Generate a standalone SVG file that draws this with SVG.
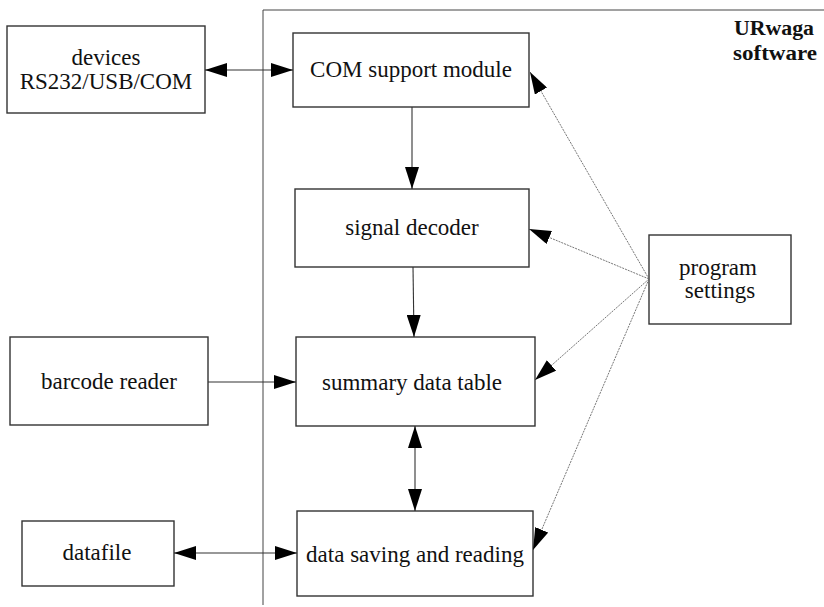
<svg xmlns="http://www.w3.org/2000/svg" width="824" height="607" viewBox="0 0 824 607">
<style>
.box{fill:#fff;stroke:#333;stroke-width:1.4}
.t{font-family:"Liberation Serif","Times New Roman",serif;font-size:23px;fill:#111;text-anchor:middle}
.b{font-family:"Liberation Serif","Times New Roman",serif;font-size:20px;font-weight:bold;fill:#111;text-anchor:middle}
.c{fill:none;stroke:#333;stroke-width:1.1}
.d{fill:none;stroke:#666;stroke-width:0.9;stroke-dasharray:2 1}
.frame{fill:none;stroke:#444;stroke-width:1}
</style>
<defs>
<marker id="ah" markerUnits="userSpaceOnUse" markerWidth="23" markerHeight="14" refX="22" refY="7" orient="auto-start-reverse">
<path d="M0,0 L22,7 L0,14 z" fill="#000"/>
</marker>
</defs>
<g id="frame">
<polyline class="frame" points="824,10 263,10 263,605"/>
<text class="b" x="774" y="35" textLength="80" lengthAdjust="spacingAndGlyphs">URwaga</text>
<text class="b" x="775" y="60" textLength="84" lengthAdjust="spacingAndGlyphs">software</text>
</g>
<g id="devices">
<rect class="box" x="7" y="26" width="198" height="87"/>
<text class="t" x="106" y="65">devices</text>
<text class="t" x="106" y="89">RS232/USB/COM</text>
</g>
<g id="com">
<rect class="box" x="293" y="33" width="236" height="74"/>
<text class="t" x="411" y="77">COM support module</text>
</g>
<g id="decoder">
<rect class="box" x="295" y="189" width="234" height="78"/>
<text class="t" x="412" y="235">signal decoder</text>
</g>
<g id="summary">
<rect class="box" x="296" y="337" width="239" height="89"/>
<text class="t" x="412" y="390">summary data table</text>
</g>
<g id="saving">
<rect class="box" x="297" y="511" width="236" height="85"/>
<text class="t" x="415" y="562">data saving and reading</text>
</g>
<g id="barcode">
<rect class="box" x="10" y="337" width="198" height="88"/>
<text class="t" x="109" y="389">barcode reader</text>
</g>
<g id="datafile">
<rect class="box" x="22" y="521" width="152" height="65"/>
<text class="t" x="97" y="560">datafile</text>
</g>
<g id="settings">
<rect class="box" x="649" y="235" width="142" height="89"/>
<text class="t" x="718" y="275">program</text>
<text class="t" x="720" y="298">settings</text>
</g>
<g id="connectors">
<line class="c" x1="205" y1="70" x2="293" y2="70" marker-start="url(#ah)" marker-end="url(#ah)"/>
<line class="c" x1="412" y1="107" x2="412" y2="189" marker-end="url(#ah)"/>
<line class="c" x1="413" y1="267" x2="414" y2="337" marker-end="url(#ah)"/>
<line class="c" x1="208" y1="382" x2="296" y2="382" marker-end="url(#ah)"/>
<line class="c" x1="415" y1="426" x2="415" y2="511" marker-start="url(#ah)" marker-end="url(#ah)"/>
<line class="c" x1="174" y1="553" x2="297" y2="553" marker-start="url(#ah)" marker-end="url(#ah)"/>
<line class="d" x1="649" y1="279" x2="530" y2="72" marker-end="url(#ah)"/>
<line class="d" x1="649" y1="279" x2="529" y2="229" marker-end="url(#ah)"/>
<line class="d" x1="649" y1="279" x2="535" y2="380" marker-end="url(#ah)"/>
<line class="d" x1="649" y1="279" x2="533" y2="550" marker-end="url(#ah)"/>
</g>
</svg>
